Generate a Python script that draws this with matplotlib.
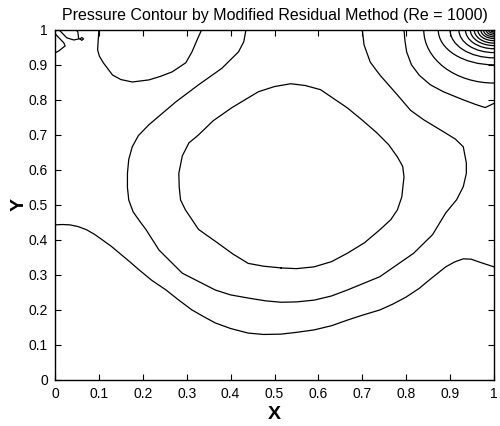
import matplotlib
matplotlib.use('Agg')
import matplotlib.pyplot as plt
from matplotlib.patches import Arc

plt.rcParams['font.family'] = ['Liberation Sans', 'DejaVu Sans']

# contour lines (x, y in cavity units)
inner_x = [0.515, 0.55, 0.59, 0.63, 0.666, 0.705, 0.74, 0.765, 0.78, 0.79, 0.795, 0.792,
           0.78, 0.76, 0.733, 0.70, 0.666, 0.605, 0.57, 0.537, 0.5, 0.463, 0.402, 0.36,
           0.327, 0.305, 0.29, 0.282, 0.283, 0.286, 0.297, 0.327, 0.372, 0.405, 0.44, 0.475, 0.515]
inner_y = [0.32, 0.318, 0.323, 0.338, 0.362, 0.392, 0.429, 0.458, 0.486, 0.523, 0.58, 0.61,
           0.637, 0.672, 0.706, 0.742, 0.777, 0.829, 0.841, 0.846, 0.838, 0.823, 0.777, 0.74,
           0.70, 0.677, 0.64, 0.59, 0.55, 0.514, 0.486, 0.43, 0.39, 0.36, 0.333, 0.325, 0.32]

mid_x = [0.435, 0.43, 0.418, 0.38, 0.327, 0.275, 0.214, 0.19, 0.176, 0.168, 0.165, 0.165,
         0.168, 0.178, 0.195, 0.207, 0.237, 0.29, 0.365, 0.40, 0.44, 0.48, 0.515, 0.55,
         0.59, 0.63, 0.666, 0.74, 0.817, 0.86, 0.89, 0.915, 0.93, 0.937, 0.937, 0.93,
         0.912, 0.89, 0.84, 0.81, 0.78, 0.74, 0.718, 0.704, 0.70]
mid_y = [1.0, 0.966, 0.937, 0.89, 0.843, 0.794, 0.729, 0.698, 0.666, 0.63, 0.59, 0.55,
         0.514, 0.48, 0.45, 0.43, 0.371, 0.305, 0.257, 0.243, 0.234, 0.226, 0.222, 0.223,
         0.228, 0.24, 0.257, 0.295, 0.362, 0.415, 0.477, 0.515, 0.552, 0.59, 0.62, 0.666,
         0.688, 0.705, 0.743, 0.77, 0.814, 0.871, 0.908, 0.957, 1.0]

topleft_x = [0.10, 0.097, 0.101, 0.11, 0.131, 0.15, 0.176, 0.214, 0.24, 0.267, 0.298, 0.312, 0.325, 0.334]
topleft_y = [1.0, 0.943, 0.925, 0.906, 0.871, 0.858, 0.851, 0.857, 0.867, 0.88, 0.906, 0.937, 0.975, 1.0]

outer_x = [0.0, 0.017, 0.034, 0.053, 0.072, 0.09, 0.108, 0.128, 0.147, 0.17, 0.192, 0.22,
           0.253, 0.28, 0.312, 0.34, 0.365, 0.40, 0.44, 0.475, 0.515, 0.55, 0.59, 0.63,
           0.666, 0.70, 0.74, 0.77, 0.80, 0.83, 0.853, 0.873, 0.89, 0.91, 0.93, 0.948,
           0.966, 0.983, 1.0]
outer_y = [0.443, 0.444, 0.443, 0.438, 0.429, 0.416, 0.40, 0.382, 0.362, 0.338, 0.314, 0.285,
           0.257, 0.23, 0.20, 0.18, 0.163, 0.147, 0.134, 0.13, 0.131, 0.136, 0.143, 0.155,
           0.171, 0.185, 0.20, 0.217, 0.237, 0.262, 0.286, 0.306, 0.323, 0.337, 0.346, 0.345,
           0.337, 0.33, 0.323]

corner1_x = [0.795, 0.797, 0.801, 0.812, 0.83, 0.855, 0.885, 0.93, 0.96, 0.98, 1.0]
corner1_y = [1.0, 0.97, 0.937, 0.9, 0.87, 0.843, 0.823, 0.80, 0.786, 0.778, 0.79]

# small loops at the top-left corner
tl_a_x = [0.009, 0.027, 0.043, 0.054, 0.052, 0.048]
tl_a_y = [1.0, 0.977, 0.971, 0.974, 0.994, 1.0]
tl_b_x = [0.0, 0.02, 0.023, 0.009, 0.0]
tl_b_y = [0.989, 0.963, 0.954, 0.94, 0.934]
tl_dot_x = [0.057, 0.061, 0.065, 0.061, 0.057]
tl_dot_y = [0.974, 0.978, 0.974, 0.97, 0.974]

# nested contours round the top-right corner: wall crossings
corner_top_x = [0.84, 0.873, 0.90, 0.92, 0.935, 0.946, 0.955, 0.963, 0.97, 0.976, 0.982, 0.987, 0.992]
corner_right_y = [0.848, 0.90, 0.92, 0.935, 0.946, 0.955, 0.962, 0.969, 0.975, 0.98, 0.985, 0.99, 0.994]

ticks = [0, 0.1, 0.2, 0.3, 0.4, 0.5, 0.6, 0.7, 0.8, 0.9, 1]
tick_labels = ['0', '0.1', '0.2', '0.3', '0.4', '0.5', '0.6', '0.7', '0.8', '0.9', '1']

fig = plt.figure(figsize=(5, 4.26), dpi=100)
ax = fig.add_axes([0.11, 0.108, 0.878, 0.822])

lw = 0.9
for xs, ys in [(inner_x, inner_y), (mid_x, mid_y), (topleft_x, topleft_y),
               (outer_x, outer_y), (corner1_x, corner1_y), (tl_a_x, tl_a_y),
               (tl_b_x, tl_b_y), (tl_dot_x, tl_dot_y)]:
    ax.plot(xs, ys, color='black', lw=lw, solid_joinstyle='round')

for tx, ry in zip(corner_top_x, corner_right_y):
    a = 1 - tx
    b = 1 - ry
    ax.add_patch(Arc((1, 1), 2 * a, 2 * b, theta1=180, theta2=270, color='black', lw=lw))

ax.set_xlim(0, 1)
ax.set_ylim(0, 1)
ax.set_xticks(ticks)
ax.set_xticklabels(tick_labels)
ax.set_yticks(ticks)
ax.set_yticklabels(tick_labels)
ax.tick_params(direction='in', top=True, right=True, length=4, width=0.8, labelsize=10, pad=5)
for s in ax.spines.values():
    s.set_linewidth(1.0)

ax.set_title('Pressure Contour by Modified Residual Method (Re = 1000)', fontsize=11.5, pad=7)
ax.set_xlabel('X', fontsize=14, fontweight='bold', labelpad=4)
ax.set_ylabel('Y', fontsize=14, fontweight='bold', labelpad=1)

fig.savefig('out.png', dpi=100)
